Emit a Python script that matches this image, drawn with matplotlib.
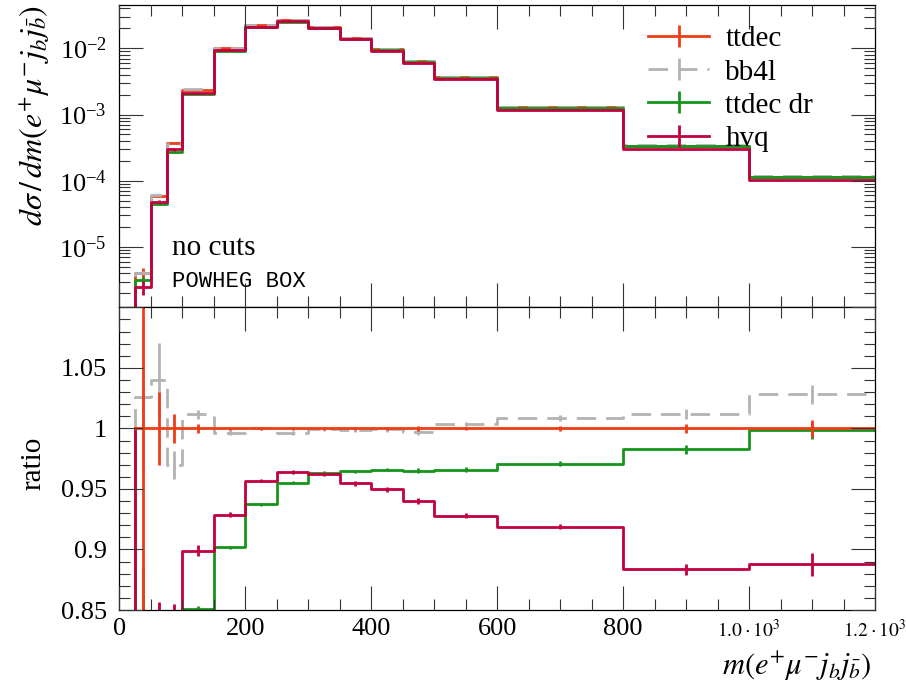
import numpy as np
import matplotlib
matplotlib.use("Agg")
import matplotlib.pyplot as plt
from matplotlib.lines import Line2D
from matplotlib.ticker import MultipleLocator, LogLocator, LogFormatterMathtext, FuncFormatter, NullFormatter

# ---------------- data ----------------
edges = [25, 50, 75, 100, 150, 200, 250, 300, 350, 400, 450, 500, 600, 800, 1000, 1200]

# reference cross section (ttdec), d sigma / dm per bin
xsec_ttdec = [4.0e-6, 5.9e-5, 3.7e-4, 2.38e-3, 1.02e-2, 2.22e-2, 2.65e-2, 2.11e-2,
              1.44e-2, 9.66e-3, 6.43e-3, 3.65e-3, 1.28e-3, 3.38e-4, 1.15e-4]

# ratios to ttdec
ratio_ttdec = [1.0] * 15
ratio_bb4l = [1.0257, 1.040, 0.970, 1.0116, 0.9964, 1.000, 0.9964, 0.9995,
              0.999, 0.9992, 0.9972, 1.0036, 1.0083, 1.0116, 1.028]
ratio_ttdec_dr = [0.80, 0.76, 0.73, 0.8508, 0.9017, 0.9373, 0.9552, 0.9633,
                  0.9646, 0.966, 0.9652, 0.966, 0.971, 0.9826, 0.9986]
ratio_hvq = [0.62, 0.82, 0.81, 0.899, 0.9287, 0.9569, 0.9641, 0.962,
             0.9547, 0.9497, 0.940, 0.928, 0.9189, 0.8835, 0.8877]

# relative statistical uncertainties
relerr_ttdec = [0.2, 0.03, 0.012, 0.0035, 0.0015, 0.001, 0.001, 0.001,
                0.0012, 0.0015, 0.002, 0.0015, 0.002, 0.004, 0.0073]
relerr_bb4l = [0.06, 0.029, 0.012, 0.0035, 0.002, 0.0015, 0.0015, 0.0015,
               0.002, 0.002, 0.0025, 0.002, 0.0025, 0.004, 0.0075]
relerr_ttdec_dr = [0.106, 0.04, 0.015, 0.003, 0.0015, 0.0015, 0.0015, 0.0015,
                   0.0015, 0.0015, 0.002, 0.002, 0.0025, 0.004, 0.007]
relerr_hvq = [0.25, 0.045, 0.055, 0.005, 0.002, 0.0015, 0.0015, 0.0015,
              0.002, 0.002, 0.0025, 0.002, 0.0025, 0.005, 0.011]

labels = ["ttdec", "bb4l", "ttdec dr", "hvq"]
colors = ["#ef3d17", "#b3b3b3", "#16951c", "#c3003f"]
styles = ["-", (0, (7, 3.6)), "-", "-"]

ratios = [ratio_ttdec, ratio_bb4l, ratio_ttdec_dr, ratio_hvq]
relerrs = [relerr_ttdec, relerr_bb4l, relerr_ttdec_dr, relerr_hvq]

# ---------------- style ----------------
plt.rcParams["font.family"] = ["Liberation Serif", "DejaVu Serif"]
plt.rcParams["mathtext.fontset"] = "stix"
FS = 19

fig = plt.figure(figsize=(9.06, 6.82), dpi=100)
L, W = 0.1317, 0.8341
ax1 = fig.add_axes([L, 0.5494, W, 0.4433])
ax2 = fig.add_axes([L, 0.10557, W, 0.4438])

e = np.asarray(edges, dtype=float)
centers = 0.5 * (e[:-1] + e[1:])
ref = np.asarray(xsec_ttdec)


def outline(vals, base):
    """Step outline that rises from a baseline at the first edge."""
    v = np.asarray(vals, dtype=float)
    xs = np.concatenate([[e[0]], e])
    ys = np.concatenate([[base], v, [v[-1]]])
    return xs, ys


# ---------------- upper panel ----------------
for i in range(4):
    vals = ref * np.asarray(ratios[i])
    err = vals * np.asarray(relerrs[i])
    xs, ys = outline(vals, 1e-9)
    ax1.step(xs, ys, where="post", color=colors[i], lw=2.0, ls=styles[i],
             zorder=2.0 + 0.1 * i)
    ax1.vlines(centers, vals - err, vals + err, colors=colors[i], lw=2.0,
               zorder=2.0 + 0.1 * i)

ax1.set_yscale("log")
ax1.set_xlim(0, 1200)
ax1.set_ylim(1.23e-6, 0.045)
ax1.yaxis.set_major_locator(LogLocator(base=10, numticks=20))
ax1.yaxis.set_minor_locator(LogLocator(base=10, subs=np.arange(2, 10), numticks=20))
ax1.yaxis.set_major_formatter(LogFormatterMathtext())
ax1.yaxis.set_minor_formatter(NullFormatter())
ax1.xaxis.set_major_locator(MultipleLocator(200))
ax1.xaxis.set_minor_locator(MultipleLocator(50))
ax1.xaxis.set_major_formatter(NullFormatter())

ax1.text(172 / 906, 1 - 255 / 682, "no cuts", transform=fig.transFigure,
         fontsize=21, va="baseline", ha="left")
ax1.text(172 / 906, 1 - 287 / 682, "POWHEG BOX", transform=fig.transFigure,
         fontsize=16, va="baseline", ha="left", family="Liberation Mono")

handles = [Line2D([0], [0], color=colors[i], lw=2.0, ls=styles[i], marker="|",
                  markersize=16, markeredgewidth=2.0) for i in range(4)]
ax1.legend(handles, labels, loc="upper left", bbox_to_anchor=(648 / 906, 1 - 26 / 682),
           bbox_transform=fig.transFigure, frameon=False, fontsize=21,
           handlelength=2.1, handletextpad=0.55, labelspacing=0.23, borderpad=0,
           borderaxespad=0)

# ---------------- ratio panel ----------------
order = [1, 2, 3, 0]
for k, i in enumerate(order):
    r = np.asarray(ratios[i])
    rerr = r * np.asarray(relerrs[i])
    xs, ys = outline(r, 1.0)
    ax2.step(xs, ys, where="post", color=colors[i], lw=2.0, ls=styles[i],
             zorder=2.0 + 0.1 * k)
    ax2.vlines(centers, r - rerr, r + rerr, colors=colors[i], lw=2.0,
               zorder=2.0 + 0.1 * k)

ax2.set_xlim(0, 1200)
ax2.set_ylim(0.85, 1.1)
ax2.yaxis.set_major_locator(MultipleLocator(0.05))
ax2.yaxis.set_minor_locator(MultipleLocator(0.01))
ax2.yaxis.set_major_formatter(FuncFormatter(lambda v, p: "" if v > 1.09 else f"{v:g}"))
ax2.xaxis.set_major_locator(MultipleLocator(200))
ax2.xaxis.set_minor_locator(MultipleLocator(50))
ax2.xaxis.set_major_formatter(FuncFormatter(lambda v, p: f"{v:g}" if v < 999 else ""))

for xv, s in [(1000, r"$1.0\cdot10^{3}$"), (1200, r"$1.2\cdot10^{3}$")]:
    ax2.text(xv, -0.03, s, transform=ax2.get_xaxis_transform(), ha="center",
             va="top", fontsize=14, clip_on=False)

for ax in (ax1, ax2):
    ax.set_axisbelow(False)
    ax.tick_params(which="both", direction="in", top=True, right=True,
                   labelsize=FS, width=0.8, color="#333333")
    ax.tick_params(which="major", length=17, pad=9)
    ax.tick_params(which="minor", length=8)
    for sp in ax.spines.values():
        sp.set_linewidth(0.9)
ax2.tick_params(axis="x", which="major", pad=6)

fig.text(0.038, 0.992, r"$d\sigma\,/\,dm(e^{+}\mu^{-}j_{b}j_{\bar{b}})$", rotation=90,
         ha="center", va="top", fontsize=23)
fig.text(33 / 906, 1 - 463 / 682, "ratio", rotation=90, ha="center", va="center",
         fontsize=21)
fig.text(872 / 906, 1 - 666 / 682, r"$m(e^{+}\mu^{-}j_{b}j_{\bar{b}})$", ha="right",
         va="center", fontsize=22)

fig.savefig("out.png", dpi=100)
